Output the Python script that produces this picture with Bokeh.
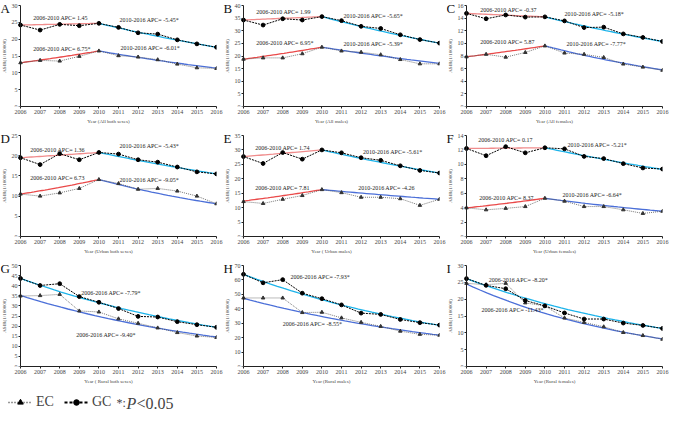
import numpy as np
from bokeh.plotting import figure
from bokeh.models import Range1d, FixedTicker, Label, Legend, LegendItem
from bokeh.layouts import gridplot, column
from bokeh.embed import file_html
from bokeh.resources import INLINE

# ---------------- data ----------------
years = [2006, 2007, 2008, 2009, 2010, 2011, 2012, 2013, 2014, 2015, 2016]

panel_letters = ["A", "B", "C", "D", "E", "F", "G", "H", "I"]
x_titles = ["Year (All both sexes)", "Year (All males)", "Year (All females)",
            "Year (Urban both sexes)", "Year ( Urban males)", "Year (Urban females)",
            "Year ( Rural both sexes)", "Year (Rural males)", "Year (Rural females)"]
y_title = "ASIR(1/100000)"
y_max = [30, 40, 16, 25, 35, 14, 50, 70, 30]
y_step = [5, 5, 2, 5, 5, 2, 5, 10, 5]

gc_a = [24.2, 22.7, 24.4, 24.0, 24.7, 23.5, 21.9, 21.5, 19.8, 18.6, 17.6]
ec_a = [13.0, 13.7, 13.5, 14.9, 16.5, 15.1, 14.7, 13.9, 12.6, 11.5, 11.3]
gc_b = [34.25, 32.25, 34.75, 34.25, 35.6, 34.0, 31.75, 30.9, 28.4, 26.5, 25.1]
ec_b = [18.75, 19.25, 19.25, 20.9, 23.5, 22.0, 21.5, 20.5, 18.6, 16.9, 16.9]
gc_c = [14.75, 13.9, 14.5, 14.16, 14.2, 13.56, 12.5, 12.57, 11.5, 10.94, 10.3]
ec_c = [7.87, 8.27, 7.82, 8.56, 9.6, 8.47, 8.27, 7.77, 6.73, 6.24, 5.74]
gc_d = [19.5, 17.8, 20.5, 19.0, 20.8, 20.4, 19.0, 18.4, 17.2, 16.0, 15.5]
ec_d = [10.5, 10.0, 10.8, 11.9, 14.1, 13.1, 11.7, 11.9, 11.25, 10.0, 8.1]
gc_e = [27.7, 25.3, 29.1, 26.8, 30.0, 29.0, 27.3, 26.4, 24.5, 22.9, 22.0]
ec_e = [12.1, 11.45, 12.9, 14.2, 16.25, 15.2, 13.6, 13.6, 13.1, 10.8, 12.9]
gc_f = [12.2, 11.2, 12.45, 11.6, 12.3, 12.15, 11.1, 10.8, 10.1, 9.5, 9.35]
ec_f = [3.97, 3.7, 3.9, 4.15, 5.3, 4.9, 4.15, 4.15, 3.7, 3.2, 3.5]
gc_g = [43.6, 40.1, 41.0, 34.6, 31.8, 28.7, 24.8, 24.5, 22.2, 20.7, 19.4]
ec_g = [34.9, 35.1, 35.7, 27.5, 27.0, 23.6, 21.4, 19.1, 16.8, 15.1, 14.4]
gc_h = [63.9, 58.0, 60.2, 50.8, 47.0, 42.7, 37.0, 36.1, 32.6, 30.4, 28.7]
ec_h = [47.5, 47.5, 47.5, 37.4, 37.6, 33.7, 30.6, 27.8, 24.5, 22.3, 21.7]
gc_i = [26.1, 24.1, 23.1, 19.6, 18.0, 15.9, 14.1, 14.1, 12.9, 12.2, 11.3]
ec_i = [24.7, 24.3, 24.7, 18.9, 18.0, 14.4, 13.1, 11.8, 10.1, 9.2, 8.1]

# joinpoint model values at the knots
knots_joint = [2006, 2010, 2016]
knots_single = [2006, 2016]
fit_gc_a = [24.2, 24.7, 17.6]
fit_ec_a = [13.0, 16.5, 11.4]
fit_gc_b = [34.25, 35.6, 25.1]
fit_ec_b = [18.75, 23.5, 17.1]
fit_gc_c = [14.75, 14.2, 10.3]
fit_ec_c = [7.87, 9.6, 5.8]
fit_gc_d = [19.5, 20.8, 15.5]
fit_ec_d = [10.5, 14.1, 8.1]
fit_gc_e = [27.7, 30.0, 22.0]
fit_ec_e = [12.3, 16.25, 12.9]
fit_gc_f = [12.2, 12.3, 9.3]
fit_ec_f = [3.97, 5.3, 3.5]
fit_gc_g = [43.6, 19.4]
fit_ec_g = [35.2, 14.6]
fit_gc_h = [63.9, 28.5]
fit_ec_h = [47.3, 21.7]
fit_gc_i = [26.1, 11.3]
fit_ec_i = [24.5, 8.2]

apc_gc_a = ["2006-2010 APC= 1.45", "2010-2016 APC= -5.45*"]
apc_ec_a = ["2006-2010 APC= 6.75*", "2010-2016 APC= -6.01*"]
apc_gc_b = ["2006-2010 APC= 1.99", "2010-2016 APC= -5.65*"]
apc_ec_b = ["2006-2010 APC= 6.95*", "2010-2016  APC= -5.39*"]
apc_gc_c = ["2006-2010 APC= -0.37", "2010-2016 APC= -5.18*"]
apc_ec_c = ["2006-2010 APC= 5.87", "2010-2016 APC= -7.77*"]
apc_gc_d = ["2006-2010 APC= 1.36", "2010-2016 APC= -5.43*"]
apc_ec_d = ["2006-2010 APC= 6.73", "2010-2016 APC= -9.05*"]
apc_gc_e = ["2006-2010 APC= 1.74", "2010-2016 APC= -5.61*"]
apc_ec_e = ["2006-2010 APC= 7.81", "2010-2016 APC= -4.26"]
apc_gc_f = ["2006-2010 APC= 0.17", "2010-2016 APC= -5.21*"]
apc_ec_f = ["2006-2010 APC= 8.37", "2010-2016 APC= -6.64*"]
apc_gc_g = ["2006-2016 APC= -7.79*"]
apc_ec_g = ["2006-2016 APC= -9.40*"]
apc_gc_h = ["2006-2016 APC= -7.93*"]
apc_ec_h = ["2006-2016 APC= -8.55*"]
apc_gc_i = ["2006-2016 APC= -8.20*"]
apc_ec_i = ["2006-2016 APC= -11.43*"]

# ---------------- layout / style ----------------
apc_pos = [
    [(2006.65, 26.4), (2011.05, 25.6), (2006.65, 17.2), (2011.1, 17.4)],
    [(2006.65, 37.6), (2011.1, 35.9), (2006.65, 25.25), (2011.1, 24.6)],
    [(2006.7, 15.35), (2011.0, 14.65), (2006.7, 10.25), (2011.1, 9.9)],
    [(2006.5, 21.4), (2011.05, 22.3), (2006.5, 14.5), (2011.05, 14.1)],
    [(2006.6, 30.6), (2012.1, 29.4), (2006.6, 16.7), (2011.85, 16.7)],
    [(2006.6, 13.4), (2011.15, 12.7), (2006.65, 5.4), (2010.9, 5.7)],
    [(2009.1, 36.5), (2008.85, 15.5)],
    [(2008.4, 61.7), (2008.0, 29.5)],
    [(2007.13, 25.6), (2006.77, 16.7)],
]

FONT = "Liberation Serif"
W, H = 223, 130
BOTTOM, RIGHT = 24, 7
LEFT_PAD_PX = 20      # room for y tick labels + y title, inside the frame
TOP_PAD_PX = 5        # room above the top tick
RED_UP, RED_LO = "#f08c8c", "#ea4a4a"
CYAN, BLUE = "#1cb3ea", "#4b6fd8"


def draw_fit(p, knots, vals, colors, width):
    for k in range(len(knots) - 1):
        t = np.linspace(knots[k], knots[k + 1], 30)
        f = (t - knots[k]) / (knots[k + 1] - knots[k])
        y = vals[k] * (vals[k + 1] / vals[k]) ** f
        p.line(t, y, line_color=colors[k], line_width=width)


def make_panel(i, gc, ec, fit_gc, fit_ec, apc_gc, apc_ec):
    ymax = y_max[i]
    frame_w = W - RIGHT
    frame_h = H - BOTTOM
    x0 = years[0] - (years[-1] - years[0]) * LEFT_PAD_PX / (frame_w - LEFT_PAD_PX)
    ytop = ymax * frame_h / (frame_h - TOP_PAD_PX)
    p = figure(width=W, height=H, output_backend="svg", toolbar_location=None,
               x_range=Range1d(x0, years[-1]), y_range=Range1d(0, ytop),
               min_border_left=0, min_border_right=RIGHT, min_border_top=0,
               min_border_bottom=BOTTOM)
    p.outline_line_color = None
    p.grid.visible = False
    p.xaxis.axis_label = x_titles[i]
    p.yaxis.axis_label = y_title
    p.yaxis.fixed_location = years[0]
    p.yaxis.bounds = (0, ymax)
    p.xaxis.bounds = (years[0], years[-1])
    for ax in (p.xaxis[0], p.yaxis[0]):
        ax.major_tick_in = 0
        ax.major_tick_out = 2
        ax.minor_tick_line_color = None
        ax.major_label_text_font = FONT
        ax.major_label_text_font_size = "6px"
        ax.axis_label_text_font = FONT
        ax.axis_label_text_font_size = "5px"
        ax.axis_label_text_font_style = "normal"
        ax.major_label_standoff = 1
        ax.axis_label_standoff = 2
        ax.axis_line_color = "#222"
        ax.major_tick_line_color = "#222"
    p.xaxis.ticker = FixedTicker(ticks=years)
    p.yaxis.ticker = FixedTicker(ticks=list(np.arange(0, ymax + 0.01, y_step[i])))

    if len(fit_gc) == 3:
        draw_fit(p, knots_joint, fit_gc, [RED_UP, CYAN], 1.3)
        draw_fit(p, knots_joint, fit_ec, [RED_LO, BLUE], 1.3)
    else:
        draw_fit(p, knots_single, fit_gc, [CYAN], 1.3)
        draw_fit(p, knots_single, fit_ec, [BLUE], 1.3)

    p.line(years, ec, line_color="#555555", line_width=0.8, line_dash="1 1")
    p.scatter(years, ec, marker="triangle", size=3.5, fill_color="#333333", line_color="#333333")
    p.line(years, gc, line_color="black", line_width=1, line_dash="2 1")
    p.scatter(years, gc, marker="circle", size=3.8, fill_color="black", line_color="black")

    for (x, y), txt in zip(apc_pos[i], apc_gc + apc_ec):
        p.add_layout(Label(x=x, y=y, text=txt, text_font=FONT, text_font_size="6px",
                           text_baseline="middle", text_align="left", text_color="#222"))
    p.add_layout(Label(x=x0, y=ytop, text=panel_letters[i], x_offset=0, y_offset=0,
                       text_font=FONT, text_font_size="13px", text_baseline="top",
                       text_color="#111"))
    return p


series = [
    (gc_a, ec_a, fit_gc_a, fit_ec_a, apc_gc_a, apc_ec_a),
    (gc_b, ec_b, fit_gc_b, fit_ec_b, apc_gc_b, apc_ec_b),
    (gc_c, ec_c, fit_gc_c, fit_ec_c, apc_gc_c, apc_ec_c),
    (gc_d, ec_d, fit_gc_d, fit_ec_d, apc_gc_d, apc_ec_d),
    (gc_e, ec_e, fit_gc_e, fit_ec_e, apc_gc_e, apc_ec_e),
    (gc_f, ec_f, fit_gc_f, fit_ec_f, apc_gc_f, apc_ec_f),
    (gc_g, ec_g, fit_gc_g, fit_ec_g, apc_gc_g, apc_ec_g),
    (gc_h, ec_h, fit_gc_h, fit_ec_h, apc_gc_h, apc_ec_h),
    (gc_i, ec_i, fit_gc_i, fit_ec_i, apc_gc_i, apc_ec_i),
]
panels = [make_panel(i, *s) for i, s in enumerate(series)]

# ---------------- legend strip ----------------
lf = figure(width=300, height=24, output_backend="svg", toolbar_location=None,
            x_range=Range1d(0, 1), y_range=Range1d(0, 1), min_border=0,
            x_axis_type=None, y_axis_type=None)
lf.outline_line_color = None
# legend proxies, kept outside the visible range
r1 = lf.line([5, 6], [5, 5], line_color="#333333", line_dash="1 2", line_width=1.3)
r2 = lf.scatter([5], [5], marker="triangle", size=7, fill_color="black", line_color="black")
r3 = lf.line([5, 6], [5, 5], line_color="black", line_dash="3 2", line_width=2)
r4 = lf.scatter([5], [5], marker="circle", size=8, fill_color="black", line_color="black")
legend = Legend(items=[LegendItem(label="EC", renderers=[r1, r2]),
                       LegendItem(label="GC", renderers=[r3, r4])],
                orientation="horizontal", location=(6, 2),
                glyph_width=24, glyph_height=14, label_height=14,
                label_standoff=4, spacing=8, padding=2, margin=0,
                border_line_alpha=0, background_fill_alpha=0,
                label_text_font=FONT, label_text_font_size="14px")
lf.add_layout(legend)
lf.add_layout(Label(x=116, y=12, x_units="screen", y_units="screen", text="*:",
                    text_font=FONT, text_font_size="12px", text_baseline="middle"))
lf.add_layout(Label(x=126, y=11, x_units="screen", y_units="screen", text="P",
                    text_font=FONT, text_font_size="16px", text_font_style="italic",
                    text_baseline="middle"))
lf.add_layout(Label(x=136, y=11, x_units="screen", y_units="screen", text="<0.05",
                    text_font=FONT, text_font_size="16px", text_baseline="middle"))

grid = gridplot([panels[0:3], panels[3:6], panels[6:9]], toolbar_location=None)
layout = column(grid, lf)

open("out.html", "w").write(file_html(layout, INLINE))
